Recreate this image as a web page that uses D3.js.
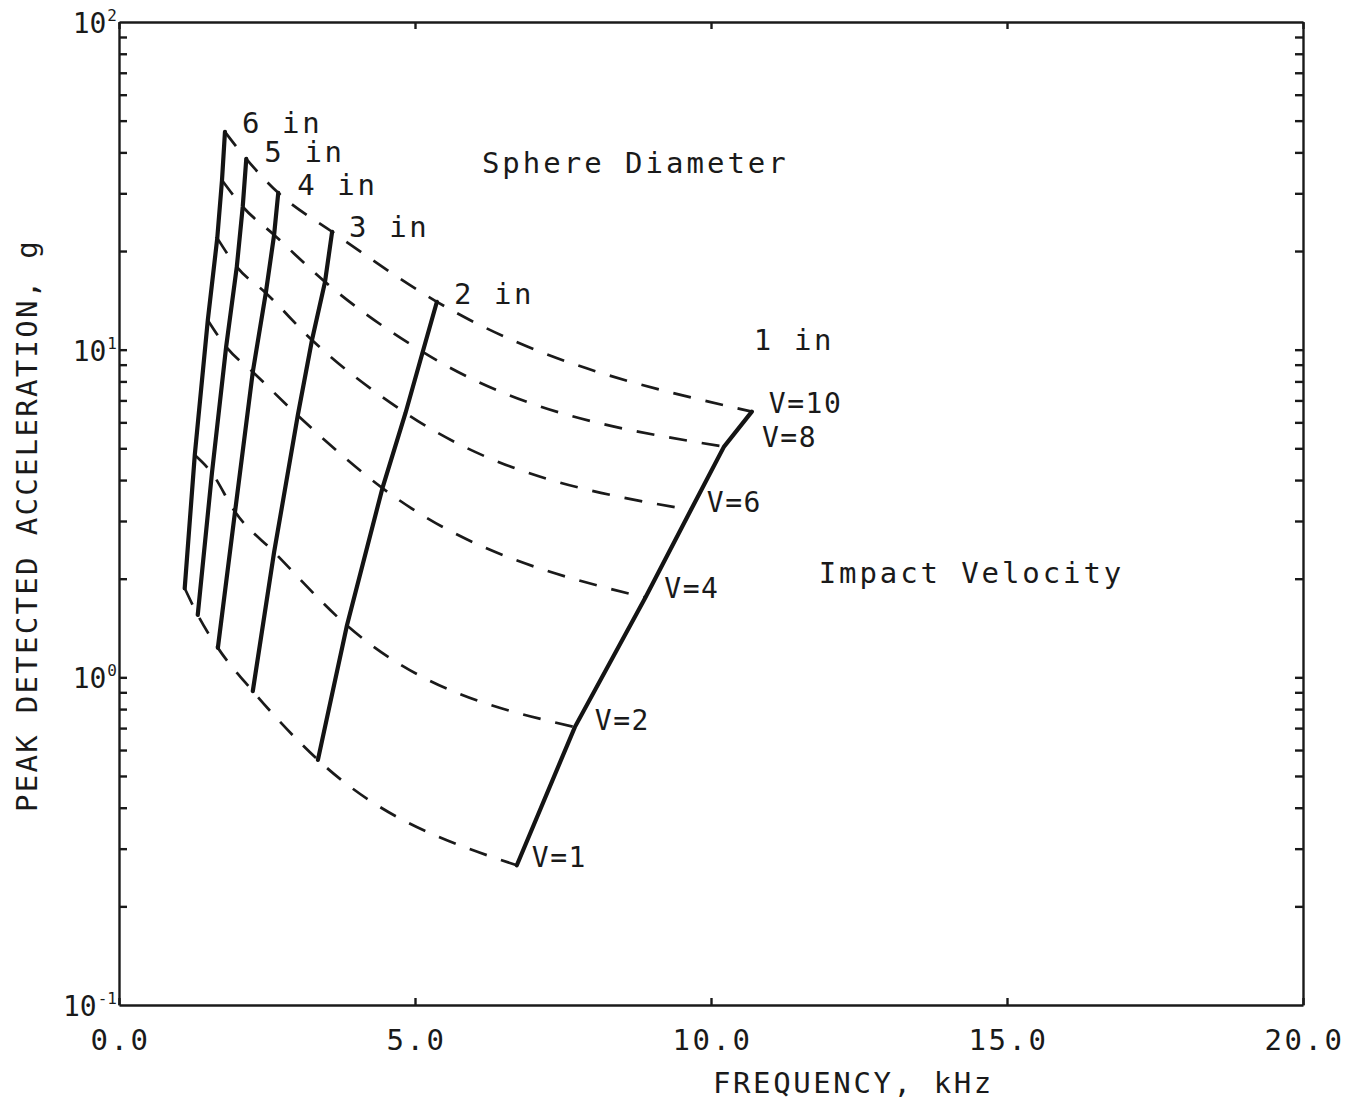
<!DOCTYPE html>
<html>
<head>
<meta charset="utf-8">
<title>Peak detected acceleration vs frequency</title>
<script src="https://d3js.org/d3.v7.min.js"></script>
<style>
  body { margin: 0; background: #fff; }
  svg { display: block; }
  text { font-family: "DejaVu Sans Mono", monospace; fill: #1a1a1a; }
  .axis path, .axis line { stroke: #1a1a1a; stroke-width: 2.4px; }
  .solid { fill: none; stroke: #141414; stroke-width: 4.2px; stroke-linecap: round; }
  .dashed { fill: none; stroke: #1a1a1a; stroke-width: 2.7px; stroke-dasharray: 18 15; }
</style>
</head>
<body>
<script>
// impact velocity for each point along a diameter line
var velocities = [1, 2, 4, 6, 8, 10];
var diameters = ["6 in", "5 in", "4 in", "3 in", "2 in", "1 in"];

// frequency (kHz), one value per velocity
var freq6in = [1.11, 1.28, 1.50, 1.66, 1.74, 1.79];
var freq5in = [1.33, 1.57, 1.81, 1.99, 2.09, 2.15];
var freq4in = [1.67, 1.96, 2.26, 2.48, 2.62, 2.69];
var freq3in = [2.26, 2.62, 3.02, 3.26, 3.48, 3.60];
var freq2in = [3.36, 3.85, 4.45, 4.84, 5.13, 5.37];
var freq1in = [6.72, 7.70, 8.89, 9.66, 10.22, 10.69];

// peak detected acceleration (g), one value per velocity
var accel6in = [1.87, 4.77, 12.3, 21.9, 32.9, 46.2];
var accel5in = [1.55, 4.2, 10.2, 17.9, 27.3, 38.2];
var accel4in = [1.23, 3.2, 8.55, 14.9, 22.4, 30.1];
var accel3in = [0.908, 2.41, 6.3, 10.7, 16.1, 22.9];
var accel2in = [0.56, 1.44, 3.78, 6.41, 9.84, 14.0];
var accel1in = [0.267, 0.705, 1.75, 3.24, 5.06, 6.47];

var xTicks = [0, 5, 10, 15, 20];
var yDecades = [0.1, 1, 10, 100];
var yExponents = ["-1", "0", "1", "2"];

var freqs = [freq6in, freq5in, freq4in, freq3in, freq2in, freq1in];
var accels = [accel6in, accel5in, accel4in, accel3in, accel2in, accel1in];

// one line per sphere diameter
var diaLines = diameters.map(function(d, i) {
  return { name: d, pts: velocities.map(function(v, j) { return { f: freqs[i][j], a: accels[i][j] }; }) };
});
// one dashed curve per impact velocity
var velLines = velocities.map(function(v, j) {
  return { v: v, pts: diameters.map(function(d, i) { return { f: freqs[i][j], a: accels[i][j] }; }) };
});

var W = 1356, H = 1101;
var plotL = 119, plotR = 1303, plotT = 22, plotB = 1005;

var x = d3.scaleLinear().domain([0, 20]).range([plotL, plotR]);
var y = d3.scaleLog().domain([0.1, 100]).range([plotB, plotT]);

var svg = d3.select("body").append("svg")
    .attr("width", W)
    .attr("height", H);

// minor log ticks
var logTicks = y.ticks().filter(function(t) { return t > 0.1 && t < 100; });

svg.append("g").attr("class", "axis")
    .attr("transform", "translate(" + plotL + ",0)")
    .call(d3.axisLeft(y).tickValues(logTicks).tickSizeInner(-8).tickSizeOuter(0).tickFormat(""));
svg.append("g").attr("class", "axis")
    .attr("transform", "translate(" + plotR + ",0)")
    .call(d3.axisRight(y).tickValues(logTicks).tickSizeInner(-8).tickSizeOuter(0).tickFormat(""));
svg.append("g").attr("class", "axis")
    .attr("transform", "translate(0," + plotT + ")")
    .call(d3.axisTop(x).tickValues(xTicks).tickSizeInner(-7).tickSizeOuter(0).tickFormat(""));
var xAxis = svg.append("g").attr("class", "axis")
    .attr("transform", "translate(0," + plotB + ")")
    .call(d3.axisBottom(x).tickValues(xTicks).tickSizeInner(-7).tickSizeOuter(0)
          .tickPadding(45).tickFormat(d3.format(".1f")));
xAxis.selectAll("text")
    .attr("font-size", 29)
    .attr("letter-spacing", 2.5)
    .attr("dx", 1)
    .attr("dy", 0)
    .style("font-family", "'DejaVu Sans Mono', monospace");

// decade labels 10^n
yDecades.forEach(function(d, i) {
  var g = svg.append("g");
  var sup = g.append("text")
      .attr("x", 117).attr("y", y(d) - 1)
      .attr("text-anchor", "end")
      .attr("font-size", 16)
      .text(yExponents[i]);
  var sw = sup.node().getComputedTextLength();
  g.append("text")
      .attr("x", 117 - sw - 1).attr("y", y(d) + 11)
      .attr("text-anchor", "end")
      .attr("font-size", 28)
      .text("10");
});

// axis titles
svg.append("text")
    .attr("x", 713).attr("y", 1093)
    .attr("font-size", 29)
    .attr("letter-spacing", 2.6)
    .text("FREQUENCY, kHz");
svg.append("text")
    .attr("transform", "translate(37,812) rotate(-90)")
    .attr("font-size", 29)
    .attr("letter-spacing", 2.3)
    .text("PEAK DETECTED ACCELERATION, g");

var line = d3.line()
    .x(function(d) { return x(d.f); })
    .y(function(d) { return y(d.a); });
var curve = d3.line()
    .x(function(d) { return x(d.f); })
    .y(function(d) { return y(d.a); })
    .curve(d3.curveMonotoneX);

svg.selectAll("path.dashed")
    .data(velLines)
  .enter().append("path")
    .attr("class", "dashed")
    .attr("d", function(d) { return curve(d.pts); });

svg.selectAll("path.solid")
    .data(diaLines)
  .enter().append("path")
    .attr("class", "solid")
    .attr("d", function(d) { return line(d.pts); });

// diameter labels next to the top (V=10) point of each line
var diaOffsets = [[17, 1], [18, 3], [19, 2], [17, 5], [17, 2], [2, -62]];
diaLines.forEach(function(d, i) {
  var p = d.pts[d.pts.length - 1];
  svg.append("text")
      .attr("x", x(p.f) + diaOffsets[i][0])
      .attr("y", y(p.a) + diaOffsets[i][1])
      .attr("font-size", 29)
      .attr("letter-spacing", 2.6)
      .text(d.name);
});

// velocity labels along the 1 in line
var velOffsets = [[15, 2], [20, 3], [19, 0], [16, 2], [38, 0], [17, 1]];
var oneIn = diaLines[diaLines.length - 1].pts;
oneIn.forEach(function(p, j) {
  svg.append("text")
      .attr("x", x(p.f) + velOffsets[j][0])
      .attr("y", y(p.a) + velOffsets[j][1])
      .attr("font-size", 28)
      .attr("letter-spacing", 1.5)
      .text("V=" + velocities[j]);
});

svg.append("text")
    .attr("x", x(6.13)).attr("y", y(34.6))
    .attr("font-size", 29)
    .attr("letter-spacing", 3)
    .text("Sphere Diameter");
svg.append("text")
    .attr("x", x(11.82)).attr("y", y(1.94))
    .attr("font-size", 29)
    .attr("letter-spacing", 2.9)
    .text("Impact Velocity");
</script>
</body>
</html>
